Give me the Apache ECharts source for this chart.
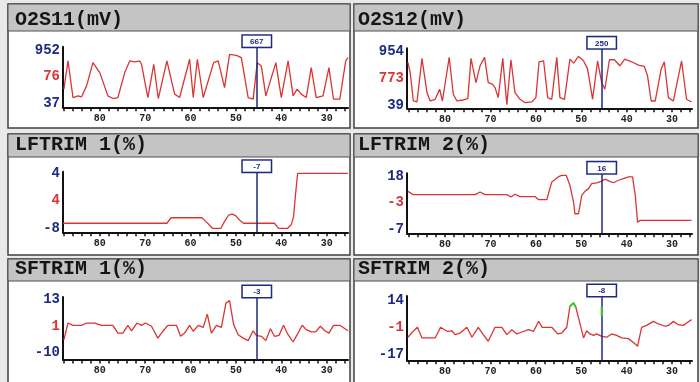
<!DOCTYPE html>
<html><head><meta charset="utf-8">
<script src="https://cdn.jsdelivr.net/npm/echarts@6/dist/echarts.min.js"></script>
<style>html,body{margin:0;padding:0;background:#fff}#c{width:700px;height:382px}</style>
</head><body><div id="c"></div>
<script>
// ---- data ----
const titles = ['O2S11(mV)', 'O2S12(mV)', 'LFTRIM 1(%)', 'LFTRIM 2(%)', 'SFTRIM 1(%)', 'SFTRIM 2(%)'];
const yTopLabels = ['952', '954', '4', '18', '13', '14'];
const yMidLabels = ['76', '773', '4', '-3', '1', '-1'];
const yBotLabels = ['37', '39', '-8', '-7', '-10', '-17'];
const cursorX = [45.4, 45.5, 45.4, 45.5, 45.4, 45.5];
const cursorValues = ['667', '250', '-7', '16', '-3', '-8'];
const xTickValues = [26, 28, 30, 32, 34, 36, 38, 40, 42, 44, 46, 48, 50, 52, 54, 56, 58, 60, 62, 64, 66, 68, 70, 72, 74, 76, 78, 80, 82, 84, 86, 88];
const xLabelValues = [30, 40, 50, 60, 70, 80];

const o2s11 = [[87.9,279],[87.0,764],[85.9,136],[84.8,165],[84.0,148],[82.9,336],[81.5,735],[80.0,564],[78.2,165],[77.1,119],[76.0,136],[74.5,564],[73.4,764],[72.3,747],[71.2,764],[70.8,707],[69.4,136],[68.1,707],[67.1,119],[65.2,764],[63.5,194],[62.4,136],[60.2,793],[59.4,136],[58.5,793],[57.2,136],[54.9,735],[53.9,764],[52.5,307],[51.4,878],[49.9,861],[48.8,821],[47.3,136],[46.2,109],[45.3,735],[44.4,678],[43.4,165],[41.2,735],[40.0,136],[38.5,764],[37.4,165],[36.5,279],[35.6,194],[34.5,136],[33.4,649],[32.3,136],[30.8,165],[29.5,649],[28.5,109],[27.1,109],[25.8,764],[25.3,820]];
const o2s12 = [[88.2,770],[87.7,597],[87.0,108],[86.2,91],[85.1,839],[84.0,252],[83.3,108],[82.2,137],[81.2,309],[80.6,108],[79.1,856],[78.2,223],[77.4,108],[76.0,125],[75.0,148],[74.3,839],[73.2,424],[72.3,712],[71.3,856],[70.5,424],[69.6,396],[69.0,338],[68.3,166],[67.3,839],[66.4,45],[65.5,816],[64.6,252],[63.5,137],[62.4,79],[60.9,91],[60.0,166],[59.3,781],[58.3,798],[57.4,166],[56.5,137],[55.4,856],[54.7,166],[53.7,137],[52.5,827],[51.7,758],[50.6,873],[49.5,798],[48.6,655],[47.5,137],[46.4,798],[45.5,424],[44.8,309],[43.8,816],[42.7,816],[41.5,712],[40.4,827],[38.9,781],[37.4,724],[36.1,701],[35.4,540],[34.6,108],[33.7,108],[32.4,655],[31.7,781],[30.8,166],[29.7,108],[27.9,798],[26.8,137],[25.7,91]];
const lftrim1 = [[88.1,-6.9],[65.2,-6.9],[64.3,-5.7],[57.5,-5.7],[56.5,-6.6],[55.2,-8],[53.3,-8],[52.5,-6.5],[51.6,-5.1],[50.8,-4.9],[50.0,-5.3],[49.2,-6.2],[48.3,-6.9],[41.5,-6.9],[40.6,-8],[38.6,-8],[37.8,-7.2],[37.3,-5.5],[36.9,-1],[36.4,4.0],[25.3,4.0]];
const lftrim2 = [[88.2,11.0],[87.0,9.4],[73.4,9.4],[72.3,10.7],[71.2,9.4],[66.4,9.4],[65.5,8.3],[64.6,9.6],[63.5,8.5],[60.2,8.5],[59.4,7.0],[57.6,7.0],[56.5,15.5],[55.0,18.0],[54.3,18.6],[53.3,18.6],[52.5,13.9],[51.7,5.9],[51.4,0.3],[50.6,0.3],[49.9,9.1],[49.2,11.0],[48.4,12.3],[47.7,14.7],[46.6,15.1],[45.5,15.9],[44.8,16.8],[43.7,15.8],[42.9,15.1],[41.8,16.3],[40.7,17.1],[39.6,17.9],[38.7,17.9],[38.1,9.1],[37.6,-3.7],[37.0,-2.9],[25.7,-2.9]];
const sftrim1 = [[87.9,-4.5],[87.0,2.8],[85.9,1.8],[84.0,1.8],[82.9,2.8],[81.1,2.8],[79.6,1.8],[77.1,1.8],[76.0,-1.6],[74.9,-1.6],[73.8,1.8],[73.0,-0.6],[71.8,2.8],[70.8,1.8],[69.9,2.8],[68.6,1.4],[67.2,-3.8],[66.1,-0.8],[65.0,1.8],[63.1,1.8],[62.2,-3.0],[61.3,-1.6],[60.2,1.8],[59.4,-0.8],[58.3,1.8],[57.2,0.9],[56.3,6.7],[55.4,-1.6],[54.3,1.8],[53.2,0.9],[52.2,11.5],[51.4,12.6],[50.5,2.1],[49.5,-2.3],[48.4,-3.8],[47.3,-4.9],[46.2,-0.6],[45.5,-2.6],[44.4,-3.0],[43.4,-4.9],[42.4,0.3],[41.5,-3.0],[40.5,-2.6],[39.5,1.8],[38.5,-2.3],[37.4,-5.5],[36.5,-2.3],[35.4,1.8],[34.5,-0.1],[33.4,-1.1],[32.4,-1.1],[31.4,1.4],[30.4,-0.6],[29.5,-1.6],[28.5,1.8],[27.1,1.8],[25.3,-0.6]];
const sftrim2 = [[88.2,-7.2],[87.2,-4.2],[86.1,-1.5],[85.1,-7.6],[82.2,-7.6],[81.0,-1.5],[79.6,-3.8],[78.5,-3.5],[77.8,-5.7],[76.7,-4.8],[75.2,-1.5],[74.1,-7.2],[72.7,-1.5],[71.6,-5.7],[70.5,-9.5],[69.0,-1.5],[67.5,-1.5],[66.4,-5.7],[65.3,-2.9],[64.2,-5.3],[63.1,-4.2],[61.6,-2.9],[60.5,-3.8],[59.4,1.9],[58.6,-1.5],[56.5,-1.5],[55.2,-5.3],[54.3,-4.8],[53.2,-1.5],[52.5,10.6],[51.7,12.4],[51.2,10.0],[50.5,2.9],[49.5,-7.6],[48.8,-3.5],[48.1,-5.3],[47.3,-6.1],[46.6,-5.3],[45.5,-6.7],[44.4,-7.2],[43.3,-5.3],[42.2,-6.1],[41.1,-7.6],[39.6,-8.0],[38.1,-11.1],[37.6,-12.4],[36.7,-1.5],[35.6,-0.4],[34.1,1.9],[33.0,0.4],[31.5,-0.9],[30.8,-0.4],[29.7,1.9],[28.6,0.0],[27.5,-0.4],[26.8,1.0],[25.7,2.9]];
const sftrim2Green = [[52.5,10.6],[51.7,12.4],[51.2,10.0]];
const cursorGreen = [[45.5,10.6],[45.5,4.8]];

const seriesData = [o2s11, o2s12, lftrim1, lftrim2, sftrim1, sftrim2];

// ---- layout ----
const panels = [
  {left: 63,  top: 46.7,  h: 60.6, lt: 50,    lb: 103.3, xr: [25.3, 88.1]},
  {left: 407, top: 48.3,  h: 60,   lt: 51.7,  lb: 105,   xr: [25.6, 88.4]},
  {left: 63,  top: 171.7, h: 60.6, lt: 173.3, lb: 228.3, xr: [25.3, 88.1]},
  {left: 407, top: 173.3, h: 60,   lt: 176.7, lb: 229,   xr: [25.6, 88.4]},
  {left: 63,  top: 297,   h: 62.5, lt: 299.7, lb: 352.3, xr: [25.3, 88.1]},
  {left: 407, top: 296,   h: 64.3, lt: 300.3, lb: 354.3, xr: [25.6, 88.4]}
];
const RED = '#d93535', NAVY = '#1c2a80', DARK = '#111';
const grids = [], xAxes = [], yAxes = [], series = [];
panels.forEach((p, i) => {
  const top = parseFloat(yTopLabels[i]), bot = parseFloat(yBotLabels[i]);
  const per = (top - bot) / (p.lb - p.lt);
  const ymax = top + (p.lt - p.top) * per;
  const ymin = bot - (p.top + p.h - p.lb) * per;
  const mid = (top + bot) / 2;
  grids.push({left: p.left, top: p.top, width: 285, height: p.h});
  xAxes.push({
    gridIndex: i, type: 'value', inverse: true, min: p.xr[0], max: p.xr[1],
    axisLine: {show: true, onZero: false, lineStyle: {color: DARK, width: 2}},
    axisTick: {show: true, customValues: xTickValues, length: 4, lineStyle: {color: DARK, width: 1.5}},
    axisLabel: {show: true, customValues: xLabelValues, fontSize: 10, fontWeight: 'bold', color: '#222', margin: 6, fontFamily: 'Liberation Mono'},
    splitLine: {show: false}
  });
  yAxes.push({
    gridIndex: i, type: 'value', min: ymin, max: ymax,
    axisLine: {show: true, lineStyle: {color: DARK, width: 2}},
    axisTick: {show: false},
    splitLine: {show: false},
    axisLabel: {
      show: true, customValues: [bot, mid, top], margin: 3,
      formatter: v => Math.abs(v - top) < 1e-6 ? '{b|' + yTopLabels[i] + '}' : (Math.abs(v - bot) < 1e-6 ? '{b|' + yBotLabels[i] + '}' : '{r|' + yMidLabels[i] + '}'),
      rich: {
        b: {color: NAVY, fontSize: 14, fontWeight: 'bold', fontFamily: 'Liberation Mono'},
        r: {color: RED, fontSize: 14, fontWeight: 'bold', fontFamily: 'Liberation Mono'}
      }
    }
  });
  series.push({
    type: 'line', xAxisIndex: i, yAxisIndex: i, data: seriesData[i], symbol: 'none', showSymbol: false,
    lineStyle: {color: RED, width: 1.3}, silent: true,
    markLine: {
      silent: true, symbol: ['none', 'none'], animation: false,
      lineStyle: {color: NAVY, width: 1.5, type: 'solid'},
      label: {show: true, position: 'end', formatter: cursorValues[i], distance: 0,
        color: NAVY, fontSize: 8, fontWeight: 'bold', fontFamily: 'Liberation Sans',
        backgroundColor: '#fff', borderColor: NAVY, borderWidth: 1.5, padding: [2, 0, 1, 0], width: 28, align: 'center'},
      data: [{xAxis: cursorX[i]}]
    }
  });
});
series.push({type: 'line', xAxisIndex: 5, yAxisIndex: 5, data: sftrim2Green, symbol: 'none', lineStyle: {color: '#3ac83a', width: 2}, z: 5});
series.push({type: 'line', xAxisIndex: 5, yAxisIndex: 5, data: cursorGreen, symbol: 'none', lineStyle: {color: '#3ac83a', width: 2}, z: 5});

// ---- frame ----
const cols = [{x: 8, w: 342, tx: 15}, {x: 354, w: 344, tx: 358}];
const rows = [{y: 4, h: 124, hh: 27, ty: 19.5}, {y: 134, h: 121, hh: 23, ty: 145}, {y: 259, h: 130, hh: 22, ty: 268.5}];
const graphics = [];
rows.forEach((r, ri) => cols.forEach((c, ci) => {
  const idx = ri * 2 + ci;
  graphics.push({type: 'rect', shape: {x: c.x, y: r.y, width: c.w, height: r.h}, style: {fill: '#fff', stroke: '#404040', lineWidth: 1.5}, z: -10});
  graphics.push({type: 'rect', shape: {x: c.x, y: r.y, width: c.w, height: r.hh}, style: {fill: '#c4c4c4', stroke: '#505050', lineWidth: 1}, z: -9});
  graphics.push({type: 'text', x: c.tx, y: r.ty, style: {text: titles[idx], fill: '#151515', font: 'bold 20px "Liberation Mono"', textVerticalAlign: 'middle', verticalAlign: 'middle'}, z: -8});
}));

const chart = echarts.init(document.getElementById('c'));
chart.setOption({
  animation: false, backgroundColor: '#e9e9e9',
  grid: grids, xAxis: xAxes, yAxis: yAxes, series: series,
  graphic: graphics
});
</script></body></html>
